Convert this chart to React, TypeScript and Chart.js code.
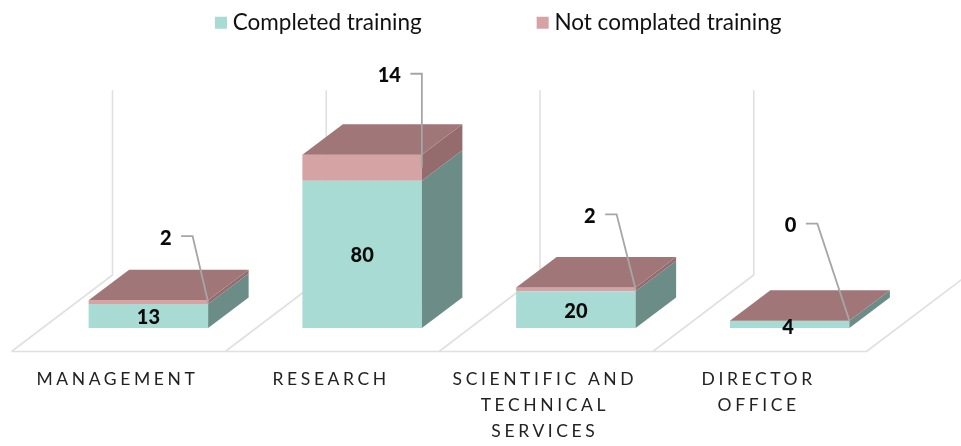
import React, { useEffect, useRef } from "react";
import { Chart, registerables } from "chart.js";

Chart.register(...registerables);

const categories = [
  ["MANAGEMENT"],
  ["RESEARCH"],
  ["SCIENTIFIC AND", "TECHNICAL", "SERVICES"],
  ["DIRECTOR", "OFFICE"],
];
const completedTraining = [13, 80, 20, 4];
const notCompletedTraining = [2, 14, 2, 0];

const FONT = "Lato";
const DEPTH_X = 40.5;
const DEPTH_Y = 30.5;
const WALL_TOP_VALUE = 129;
const FLOOR_DROP = 23.5;
const FLOOR_SHIFT = 30;
const BACK_X = 101;
const BACK_Y = 76.5;
const leaderElbows = [
  [-15.5, -66],
  [0, -94],
  [-19, -75],
  [-32, -97],
];
const teal = "#A9DBD5";
const pink = "#D5A3A3";
const tealSide = "#6C8C88";
const pinkSide = "#946C6E";
const topFace = "#A07678";
const LEGEND_SHIFT_Y = 109;
const LEGEND_SHIFT_X = 32;

const scene = {
  id: "scene3d",
  afterLayout(chart: any) {
    const l = chart.legend;
    l.top -= LEGEND_SHIFT_Y;
    l.bottom -= LEGEND_SHIFT_Y;
    l.left += LEGEND_SHIFT_X;
    l.right += LEGEND_SHIFT_X;
  },
  beforeDraw(chart: any) {
    const sx = chart.scales.x;
    if (!sx.__wrapped) {
      const orig = sx.drawLabels;
      sx.drawLabels = function (area: any) {
        const c = chart.ctx;
        c.save();
        c.letterSpacing = "3.6px";
        orig.call(this, area);
        c.restore();
      };
      sx.__wrapped = true;
    }
  },
  beforeDatasetsDraw(chart: any) {
    const { ctx, chartArea, scales } = chart;
    const step = chartArea.width / categories.length;
    const floorY = scales.y.getPixelForValue(0) + FLOOR_DROP;
    const wallTop = scales.y.getPixelForValue(WALL_TOP_VALUE);
    ctx.save();
    ctx.strokeStyle = "#E0E0E0";
    ctx.lineWidth = 1.6;
    ctx.lineJoin = "miter";
    const x0 = chartArea.left - FLOOR_SHIFT;
    ctx.beginPath();
    ctx.moveTo(x0, floorY);
    ctx.lineTo(x0 + step * categories.length, floorY);
    for (let i = 0; i <= categories.length; i++) {
      const fx = x0 + i * step;
      ctx.moveTo(fx, floorY);
      ctx.lineTo(fx + BACK_X, floorY - BACK_Y);
      ctx.lineTo(fx + BACK_X, wallTop);
    }
    ctx.stroke();
    ctx.restore();
  },
  afterDatasetsDraw(chart: any) {
    const { ctx } = chart;
    const m0 = chart.getDatasetMeta(0).data;
    const m1 = chart.getDatasetMeta(1).data;
    const poly = (pts: number[][], fill: string) => {
      ctx.fillStyle = fill;
      ctx.beginPath();
      pts.forEach((p, i) => (i ? ctx.lineTo(p[0], p[1]) : ctx.moveTo(p[0], p[1])));
      ctx.closePath();
      ctx.fill();
    };
    ctx.save();
    categories.forEach((_, i) => {
      const a = m0[i];
      const b = m1[i];
      const hw = a.width / 2;
      const l = a.x - hw;
      const r = a.x + hw;
      const side = (yTop: number, yBot: number, fill: string) =>
        poly(
          [
            [r, yTop],
            [r + DEPTH_X, yTop - DEPTH_Y],
            [r + DEPTH_X, yBot - DEPTH_Y],
            [r, yBot],
          ],
          fill,
        );
      side(a.y, a.base, tealSide);
      side(b.y, a.y, pinkSide);
      poly(
        [
          [l, b.y],
          [l + DEPTH_X, b.y - DEPTH_Y],
          [r + DEPTH_X, b.y - DEPTH_Y],
          [r, b.y],
        ],
        topFace,
      );
    });

    ctx.textBaseline = "middle";
    ctx.font = `900 20px ${FONT}`;
    ctx.fillStyle = "#0A0A0A";
    categories.forEach((_, i) => {
      const a = m0[i];
      const b = m1[i];
      const r = a.x + a.width / 2;
      const small = a.base - a.y < 15;
      ctx.textAlign = "center";
      ctx.fillText(String(completedTraining[i]), a.x - (small ? 1.5 : 0), (a.y + a.base) / 2 + (small ? 3 : 1.5));

      const endY = (b.y + a.y) / 2;
      const [ex, ey] = leaderElbows[i];
      const elbowX = r + ex;
      const elbowY = endY + ey;
      ctx.strokeStyle = "#A6A6A6";
      ctx.lineWidth = 1.8;
      ctx.beginPath();
      ctx.moveTo(elbowX - 11.5, elbowY);
      ctx.lineTo(elbowX, elbowY);
      ctx.lineTo(r, endY);
      ctx.stroke();
      ctx.textAlign = "right";
      ctx.fillText(String(notCompletedTraining[i]), elbowX - 21, elbowY + 2);
    });
    ctx.restore();
  },
};

export default function App() {
  const ref = useRef<HTMLCanvasElement | null>(null);
  useEffect(() => {
    document.body.style.margin = "0";
    const chart = new Chart(ref.current as HTMLCanvasElement, {
      type: "bar",
      data: {
        labels: categories as any,
        datasets: [
          {
            label: "Completed training",
            data: completedTraining,
            backgroundColor: teal,
            borderWidth: 0,
          },
          {
            label: "Not complated training",
            data: notCompletedTraining,
            backgroundColor: pink,
            borderWidth: 0,
          },
        ],
      },
      options: {
        responsive: false,
        animation: false,
        layout: { padding: { left: 41.5, right: 64.5, top: 0, bottom: 0 } },
        datasets: { bar: { barPercentage: 0.559, categoryPercentage: 1 } },
        plugins: {
          tooltip: { enabled: false },
          legend: {
            position: "top",
            labels: {
              padding: 120.5,
              usePointStyle: true,
              pointStyle: "rect",
              boxWidth: 1,
              boxHeight: 12,
              color: "#111111",
              font: { family: FONT, size: 22.5 },
            },
          },
        },
        scales: {
          x: {
            stacked: true,
            grid: { display: false },
            border: { display: false },
            afterFit(scale: any) {
              scale.height = 118;
            },
            ticks: {
              autoSkip: false,
              maxRotation: 0,
              minRotation: 0,
              padding: 30,
              labelOffset: -31,
              color: "#222222",
              font: { family: FONT, size: 17.5, lineHeight: 1.486 },
            },
          },
          y: {
            stacked: true,
            display: false,
            min: 0,
            max: 95,
          },
        },
      },
      plugins: [scene as any],
    });
    return () => chart.destroy();
  }, []);
  return (
    <div style={{ position: "absolute", left: 0, top: 0, width: 961, height: 446 }}>
      <canvas ref={ref} width={961} height={446} style={{ display: "block" }} />
    </div>
  );
}
